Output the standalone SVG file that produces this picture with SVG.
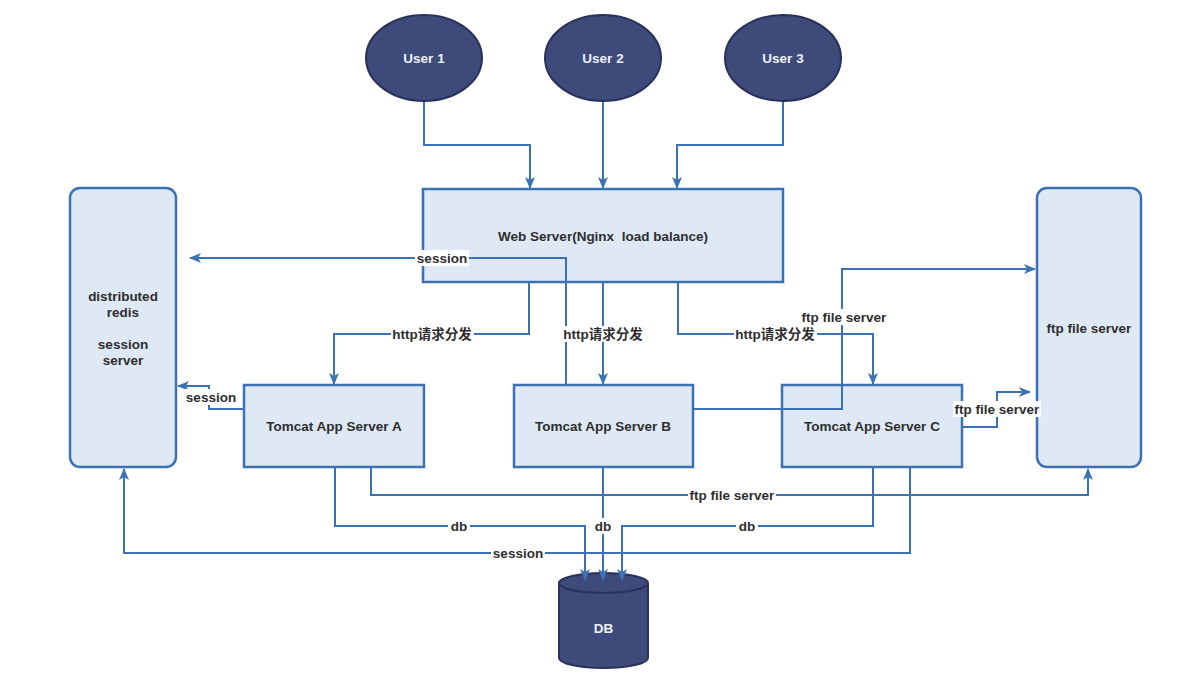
<svg xmlns="http://www.w3.org/2000/svg" width="1187" height="679" viewBox="0 0 1187 679">
<defs>
<style>
.box{fill:#dfe8f5;stroke:#3c72b3;stroke-width:2.5}
.rbox{fill:#dfe8f5;stroke:#3c72b3;stroke-width:2.5}
.user{fill:#3e4a7a;stroke:#28315a;stroke-width:2}
.t{font-family:"Liberation Sans","Noto Sans CJK SC",sans-serif;font-weight:bold;font-size:13.5px;fill:#2e2e2e;text-anchor:middle;dominant-baseline:central}
.tw{fill:#eef0f6}
.c path{fill:none;stroke:#3c72b3;stroke-width:2;marker-end:url(#ah)}
.lbg{fill:#ffffff}
</style>
<marker id="ah" viewBox="0 0 12 10" markerWidth="12" markerHeight="10" refX="11" refY="5" orient="auto" markerUnits="userSpaceOnUse">
<path d="M0,0 L12,5 L0,10 L3,5 z" fill="#3c72b3"/>
</marker>
</defs>
<rect width="1187" height="679" fill="#ffffff"/>

<g id="user1"><ellipse class="user" cx="424" cy="58" rx="58" ry="43"/><text class="t tw" x="424" y="58">User 1</text></g>
<g id="user2"><ellipse class="user" cx="603" cy="58" rx="58" ry="43"/><text class="t tw" x="603" y="58">User 2</text></g>
<g id="user3"><ellipse class="user" cx="783" cy="58" rx="58" ry="43"/><text class="t tw" x="783" y="58">User 3</text></g>

<g id="webserver"><rect class="box" x="423" y="189" width="360" height="93"/><text class="t" x="603" y="236">Web Server(Nginx&#160; load balance)</text></g>

<g id="redis"><rect class="rbox" x="70" y="188" width="106" height="279" rx="10"/>
<text class="t" x="123" y="296">distributed</text><text class="t" x="123" y="312">redis</text>
<text class="t" x="123" y="344">session</text><text class="t" x="123" y="360">server</text></g>

<g id="ftpserver"><rect class="rbox" x="1037" y="188" width="104" height="279" rx="10"/><text class="t" x="1089" y="328">ftp file server</text></g>

<g id="tomcatA"><rect class="box" x="244" y="385" width="180" height="82"/><text class="t" x="334" y="426">Tomcat App Server A</text></g>
<g id="tomcatB"><rect class="box" x="514" y="385" width="179" height="82"/><text class="t" x="603" y="426">Tomcat App Server B</text></g>
<g id="tomcatC"><rect class="box" x="782" y="385" width="180" height="82"/><text class="t" x="872" y="426">Tomcat App Server C</text></g>

<g id="db"><path class="user" d="M559,583 A44.5,10 0 0,1 648,583 V658 A44.5,10 0 0,1 559,658 Z"/><path d="M559,583 A44.5,10 0 0,0 648,583" fill="none" stroke="#28315a" stroke-width="2"/><text class="t tw" x="603.5" y="628">DB</text></g>

<g id="connectors" class="c">
<path d="M424,102 V145 H530 V188"/>
<path d="M603,102 V188"/>
<path d="M783,102 V145 H677 V188"/>
<path d="M566,385 V258 H190"/>
<path d="M529,282 V334 H334 V384"/>
<path d="M603,282 V384"/>
<path d="M678,282 V334 H873 V384"/>
<path d="M693,409 H842 V269 H1035"/>
<path d="M962,427 H997 V392 H1030"/>
<path d="M244,409 H209 V386 H178"/>
<path d="M371,467 V495 H1088 V469"/>
<path d="M335,467 V526 H585 V580"/>
<path d="M603,467 V580"/>
<path d="M873,467 V526 H622 V580"/>
<path d="M910,467 V553 H124 V469"/>
</g>

<g id="labels">
<rect class="lbg" x="415" y="250" width="54" height="16"/><text class="t" x="442" y="258">session</text>
<rect class="lbg" x="391" y="326" width="83" height="16"/><text class="t" x="432" y="334">http请求分发</text>
<rect class="lbg" x="562" y="326" width="83" height="16"/><text class="t" x="603" y="334">http请求分发</text>
<rect class="lbg" x="734" y="326" width="83" height="16"/><text class="t" x="775" y="334">http请求分发</text>
<rect class="lbg" x="800" y="309" width="88" height="16"/><text class="t" x="844" y="317">ftp file server</text>
<rect class="lbg" x="953" y="401" width="88" height="16"/><text class="t" x="997" y="409">ftp file server</text>
<rect class="lbg" x="183" y="389" width="56" height="16"/><text class="t" x="211" y="397">session</text>
<rect class="lbg" x="688" y="487" width="88" height="16"/><text class="t" x="732" y="495">ftp file server</text>
<rect class="lbg" x="448" y="518" width="22" height="16"/><text class="t" x="459" y="526">db</text>
<rect class="lbg" x="592" y="518" width="22" height="16"/><text class="t" x="603" y="526">db</text>
<rect class="lbg" x="736" y="518" width="22" height="16"/><text class="t" x="747" y="526">db</text>
<rect class="lbg" x="491" y="545" width="54" height="16"/><text class="t" x="518" y="553">session</text>
</g>
</svg>
